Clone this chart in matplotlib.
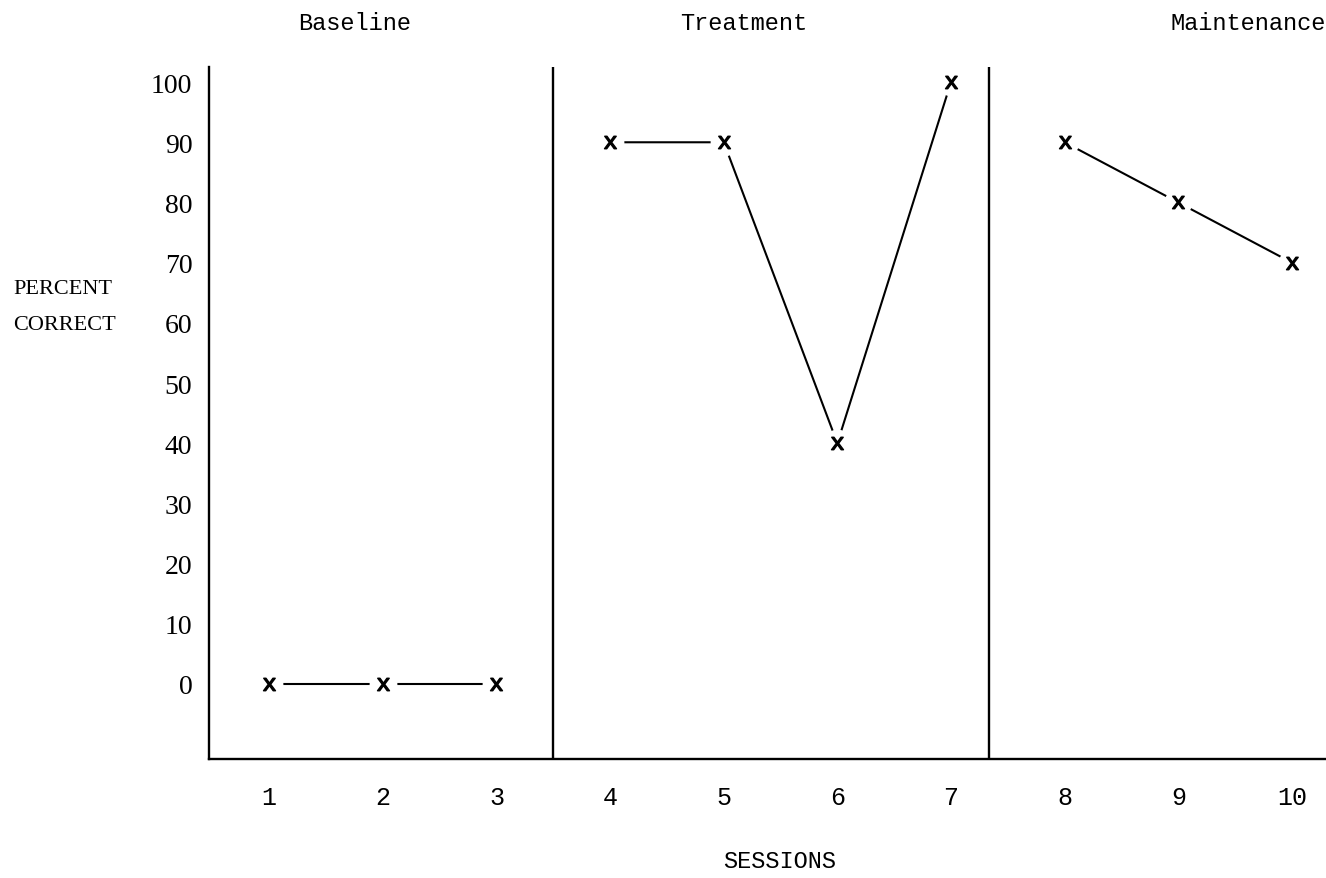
import matplotlib

matplotlib.use("Agg")

import matplotlib.pyplot as plt


WIDTH = 1326
HEIGHT = 879
DPI = 100

INK = "black"
TYPE = "Liberation Mono"
SERIF = "Liberation Serif"

# Single-subject design: three phases, one value per session.
phases = ["Baseline", "Treatment", "Maintenance"]
phase_sessions = [[1, 2, 3], [4, 5, 6, 7], [8, 9, 10]]
phase_values = [[0, 0, 0], [90, 90, 40, 100], [90, 80, 70]]
phase_breaks = [3.5, 7.33]
session_ticks = list(range(1, 11))
percent_ticks = list(range(0, 101, 10))


def main():
    plt.rcParams["mathtext.fontset"] = "custom"
    plt.rcParams["mathtext.tt"] = TYPE

    fig = plt.figure(figsize=(WIDTH / DPI, HEIGHT / DPI), dpi=DPI, facecolor="white")
    ax = fig.add_axes([0.1576, 0.1354, 0.8424, 0.7872], facecolor="white")
    ax.set_xlim(0.47, 10.30)
    ax.set_ylim(-12.46, 102.5)

    for side in ("top", "right"):
        ax.spines[side].set_visible(False)
    for side in ("left", "bottom"):
        ax.spines[side].set_linewidth(1.7)
        ax.spines[side].set_color(INK)

    ax.set_xticks(session_ticks)
    ax.set_yticks(percent_ticks)
    ax.tick_params(axis="both", length=0)
    ax.tick_params(axis="x", pad=19)
    ax.tick_params(axis="y", pad=12)
    for label in ax.get_xticklabels():
        label.set_fontfamily(TYPE)
        label.set_fontsize(18)
    for label in ax.get_yticklabels():
        label.set_fontfamily(SERIF)
        label.set_fontsize(20)

    for b in phase_breaks:
        ax.axvline(b, color=INK, linewidth=1.7, zorder=1)

    for sessions, values in zip(phase_sessions, phase_values):
        ax.plot(sessions, values, color=INK, linewidth=1.5, zorder=2)
        # knock out the line around each typed mark
        ax.plot(sessions, values, linestyle="none", marker="o", markersize=20,
                markerfacecolor="white", markeredgecolor="none", zorder=3)
        ax.plot(sessions, values, linestyle="none", marker=r"$\mathtt{x}$",
                markersize=9, markerfacecolor=INK, markeredgecolor=INK,
                markeredgewidth=1.0, zorder=4)

    # Phase titles typed across the top.
    title_x = [298, 680, 1170]
    for name, x in zip(phases, title_x):
        fig.text(x / WIDTH, 1 - 30 / HEIGHT, name, family=TYPE, fontsize=17,
                 color=INK, ha="left", va="baseline")

    fig.text(13 / WIDTH, 1 - 290 / HEIGHT, "PERCENT", family=SERIF,
             fontsize=16, color=INK, ha="left", va="center")
    fig.text(13 / WIDTH, 1 - 325 / HEIGHT, "CORRECT", family=SERIF,
             fontsize=16, color=INK, ha="left", va="center")
    fig.text(723 / WIDTH, 1 - 868 / HEIGHT, "SESSIONS", family=TYPE,
             fontsize=17, color=INK, ha="left", va="baseline")

    fig.savefig("out.png", dpi=DPI, facecolor="white")
    plt.close(fig)


if __name__ == "__main__":
    main()
